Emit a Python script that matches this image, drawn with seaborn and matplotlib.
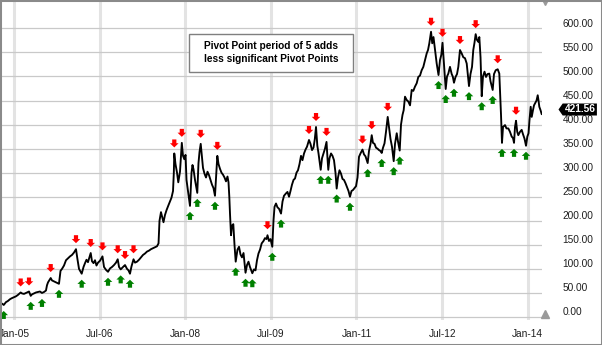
import numpy as np
import pandas as pd
import matplotlib
matplotlib.use("Agg")
import matplotlib.pyplot as plt
import matplotlib.transforms as mtrans
from matplotlib.path import Path
from matplotlib.patches import Rectangle
import seaborn as sns

# ---------------- data (decimal years, price) ----------------
dates = [
    2004.77, 2004.80, 2004.82, 2004.86, 2004.89, 2004.93, 2004.96, 2005.00, 2005.035, 2005.07,
    2005.117, 2005.14, 2005.175, 2005.21, 2005.263, 2005.293, 2005.315, 2005.35, 2005.385, 2005.42,
    2005.455, 2005.49, 2005.526, 2005.56, 2005.578, 2005.596, 2005.643, 2005.666, 2005.70, 2005.736,
    2005.788, 2005.815, 2005.841, 2005.876, 2005.911, 2005.946, 2005.981, 2006.016, 2006.051, 2006.086,
    2006.112, 2006.139, 2006.186, 2006.218, 2006.244, 2006.270, 2006.296, 2006.344, 2006.366, 2006.393,
    2006.419, 2006.445, 2006.472, 2006.507, 2006.550, 2006.577, 2006.612, 2006.647, 2006.682, 2006.717,
    2006.752, 2006.787, 2006.817, 2006.840, 2006.869, 2006.901, 2006.927, 2006.945, 2006.980, 2007.006,
    2007.032, 2007.058, 2007.094, 2007.120, 2007.155, 2007.190, 2007.225, 2007.260, 2007.295, 2007.330,
    2007.365, 2007.400, 2007.435, 2007.470, 2007.505, 2007.532, 2007.549, 2007.575, 2007.602, 2007.619,
    2007.645, 2007.672, 2007.698, 2007.733, 2007.759, 2007.786, 2007.800, 2007.808, 2007.829, 2007.856,
    2007.878, 2007.908, 2007.926, 2007.940, 2007.961, 2007.984, 2008.005, 2008.022, 2008.048, 2008.083,
    2008.110, 2008.127, 2008.145, 2008.171, 2008.211, 2008.232, 2008.250, 2008.271, 2008.294, 2008.311,
    2008.337, 2008.364, 2008.390, 2008.416, 2008.442, 2008.469, 2008.495, 2008.521, 2008.544, 2008.562,
    2008.583, 2008.609, 2008.635, 2008.661, 2008.688, 2008.714, 2008.740, 2008.758, 2008.772, 2008.784,
    2008.802, 2008.819, 2008.842, 2008.863, 2008.884, 2008.915, 2008.942, 2008.968, 2008.994, 2009.021,
    2009.056, 2009.082, 2009.108, 2009.134, 2009.175, 2009.205, 2009.231, 2009.257, 2009.283, 2009.310,
    2009.339, 2009.371, 2009.397, 2009.424, 2009.441, 2009.467, 2009.494, 2009.525, 2009.546, 2009.564,
    2009.590, 2009.616, 2009.643, 2009.678, 2009.704, 2009.730, 2009.765, 2009.791, 2009.818, 2009.844,
    2009.870, 2009.897, 2009.923, 2009.949, 2009.975, 2010.002, 2010.028, 2010.054, 2010.081, 2010.107,
    2010.133, 2010.168, 2010.194, 2010.221, 2010.247, 2010.270, 2010.291, 2010.314, 2010.335, 2010.373,
    2010.396, 2010.422, 2010.448, 2010.475, 2010.492, 2010.506, 2010.527, 2010.554, 2010.580, 2010.606,
    2010.632, 2010.653, 2010.676, 2010.702, 2010.729, 2010.755, 2010.781, 2010.808, 2010.834, 2010.860,
    2010.886, 2010.913, 2010.939, 2010.965, 2010.992, 2011.018, 2011.044, 2011.070, 2011.105, 2011.132,
    2011.158, 2011.196, 2011.219, 2011.246, 2011.267, 2011.289, 2011.316, 2011.342, 2011.368, 2011.394,
    2011.421, 2011.442, 2011.465, 2011.491, 2011.517, 2011.547, 2011.570, 2011.596, 2011.622, 2011.652,
    2011.675, 2011.705, 2011.727, 2011.757, 2011.780, 2011.806, 2011.827, 2011.850, 2011.880, 2011.908,
    2011.938, 2011.967, 2011.995, 2012.025, 2012.055, 2012.083, 2012.113, 2012.142, 2012.171, 2012.200,
    2012.230, 2012.253, 2012.276, 2012.306, 2012.327, 2012.349, 2012.376, 2012.405, 2012.437, 2012.463,
    2012.486, 2012.507, 2012.528, 2012.547, 2012.563, 2012.586, 2012.609, 2012.638, 2012.668, 2012.687,
    2012.708, 2012.735, 2012.761, 2012.784, 2012.813, 2012.843, 2012.871, 2012.901, 2012.931, 2012.954,
    2012.971, 2012.997, 2013.024, 2013.046, 2013.067, 2013.088, 2013.111, 2013.134, 2013.152, 2013.173,
    2013.194, 2013.216, 2013.243, 2013.269, 2013.295, 2013.327, 2013.348, 2013.386, 2013.409, 2013.439,
    2013.474, 2013.502, 2013.519, 2013.532, 2013.549, 2013.567, 2013.602, 2013.628, 2013.660, 2013.689,
    2013.719, 2013.742, 2013.760, 2013.777, 2013.795, 2013.816, 2013.835, 2013.865, 2013.894, 2013.917,
    2013.943, 2013.970, 2013.993, 2014.014, 2014.031, 2014.052, 2014.070, 2014.092, 2014.110, 2014.127,
    2014.154, 2014.175, 2014.189, 2014.203, 2014.224, 2014.245,
]
prices = [
    29, 27, 25, 31, 33, 37, 39, 41, 43, 46,
    51, 49, 48, 50, 53, 44, 47, 49, 51, 52,
    53, 50, 52, 55, 66, 72, 81, 76, 74, 72,
    69, 96, 100, 107, 118, 122, 126, 129, 134, 141,
    120, 100, 90, 104, 112, 119, 114, 133, 116, 112,
    118, 107, 113, 117, 126, 104, 98, 94, 101, 104,
    108, 113, 120, 104, 99, 103, 106, 108, 100, 97,
    90, 105, 120, 113, 115, 119, 124, 129, 132, 136,
    138, 141, 143, 145, 147, 153, 200, 218, 205, 197,
    212, 222, 230, 240, 248, 262, 300, 340, 318, 300,
    280, 302, 335, 362, 335, 328, 337, 285, 262, 231,
    300, 316, 307, 285, 258, 320, 343, 360, 330, 310,
    298, 290, 302, 295, 285, 275, 268, 252, 300, 335,
    318, 308, 300, 296, 290, 282, 292, 280, 250, 215,
    170, 190, 193, 150, 115, 140, 146, 130, 124, 133,
    92, 108, 115, 104, 91, 99, 97, 118, 132, 140,
    153, 158, 164, 162, 170, 158, 162, 146, 200, 229,
    236, 228, 225, 215, 240, 252, 257, 260, 250, 262,
    275, 285, 288, 300, 305, 318, 335, 326, 340, 348,
    354, 368, 360, 347, 352, 370, 395, 356, 340, 306,
    330, 340, 350, 364, 330, 306, 330, 340, 335, 326,
    300, 267, 290, 305, 298, 287, 285, 278, 270, 262,
    250, 262, 264, 268, 272, 290, 333, 340, 348, 338,
    334, 320, 345, 360, 378, 362, 360, 352, 350, 347,
    345, 341, 352, 361, 385, 416, 395, 370, 354, 324,
    360, 382, 365, 346, 400, 420, 430, 458, 451, 448,
    440, 472, 470, 479, 486, 499, 502, 513, 520, 534,
    548, 555, 569, 593, 569, 582, 555, 527, 503, 534,
    545, 570, 534, 500, 474, 500, 506, 520, 505, 500,
    487, 499, 505, 520, 555, 548, 540, 538, 527, 500,
    480, 505, 520, 555, 570, 588, 576, 572, 582, 540,
    459, 500, 510, 499, 505, 506, 490, 472, 505, 513,
    515, 506, 460, 420, 362, 395, 399, 392, 392, 385,
    375, 372, 362, 395, 408, 385, 378, 385, 389, 380,
    371, 356, 375, 382, 410, 437, 416, 430, 440, 444,
    450, 461, 450, 437, 430, 421.56,
]
pivot_high_dates = [2005.117, 2005.263, 2005.643, 2006.086, 2006.344, 2006.550, 2006.817,
                    2006.945, 2007.094, 2007.808, 2007.940, 2008.271, 2008.562, 2009.441,
                    2010.168, 2010.291, 2010.475, 2011.105, 2011.267, 2011.547, 2012.306,
                    2012.507, 2012.813, 2013.088, 2013.474, 2013.795]
pivot_low_dates = [2004.82, 2005.293, 2005.49, 2005.788, 2006.186, 2006.647, 2006.869,
                   2007.032, 2008.083, 2008.211, 2008.521, 2008.884, 2009.056, 2009.175,
                   2009.525, 2009.678, 2010.373, 2010.506, 2010.653, 2010.886, 2011.196,
                   2011.442, 2011.652, 2011.757, 2012.437, 2012.563, 2012.708, 2012.971,
                   2013.194, 2013.386, 2013.549, 2013.760, 2013.970]
x_tick_pos = [2005.0, 2006.5, 2008.0, 2009.5, 2011.0, 2012.5, 2014.0]
x_tick_labels = ["Jan-05", "Jul-06", "Jan-08", "Jul-09", "Jan-11", "Jul-12", "Jan-14"]
y_ticks = [0, 50, 100, 150, 200, 250, 300, 350, 400, 450, 500, 550, 600]
last_price = prices[-1]
note_lines = ["Pivot Point period of 5 adds", "less significant Pivot Points"]

assert len(dates) == len(prices)

# ---------------- style ----------------
sns.set_theme(style="white")
plt.rcParams['font.family'] = ['Liberation Sans', 'DejaVu Sans']
FS = 7.3
TXT = '#1e1e1e'

W, H = 602, 345
fig = plt.figure(figsize=(W / 100, H / 100), dpi=100, facecolor='white')


def px_rect(l, t, r, b):
    return [l / W, 1 - b / H, (r - l) / W, (b - t) / H]


ax = fig.add_axes(px_rect(1, 0, 542, 320))
ax.set_facecolor('white')
for s in ax.spines.values():
    s.set_visible(False)

df = pd.DataFrame({"date": dates, "price": prices})
sns.lineplot(data=df, x="date", y="price", ax=ax, color='black', lw=1.35,
             estimator=None, sort=False, zorder=2)

hi = pd.DataFrame({"date": pivot_high_dates,
                   "price": np.interp(pivot_high_dates, dates, prices)})
lo = pd.DataFrame({"date": pivot_low_dates,
                   "price": np.interp(pivot_low_dates, dates, prices)})


def arrow_marker(sign):
    tip, neck, top, hw, sw = 6.0, 10.2, 14.0, 4.3, 2.1
    pts = [(0, tip), (hw, neck), (sw, neck), (sw, top), (-sw, top), (-sw, neck), (-hw, neck), (0, tip)]
    verts = [(x, sign * y) for x, y in pts]
    codes = [Path.MOVETO] + [Path.LINETO] * 6 + [Path.CLOSEPOLY]
    return Path(verts, codes)


ms = 2 * 14.0 * 0.72
sns.scatterplot(data=hi, x="date", y="price", ax=ax, marker=arrow_marker(1), s=ms ** 2,
                color='#ff0000', edgecolor='none', linewidth=0, zorder=3, legend=False)
sns.scatterplot(data=lo, x="date", y="price", ax=ax, marker=arrow_marker(-1), s=ms ** 2,
                color='#008000', edgecolor='none', linewidth=0, zorder=3, legend=False)

# axes limits / ticks
ax.set_xlim(2004.7723, 2014.250)
ax.set_ylim(-6.24, 659.0)
ax.set_xticks(x_tick_pos, x_tick_labels)
ax.set_yticks(y_ticks, [f"{v:.2f}" for v in y_ticks])
ax.yaxis.tick_right()
ax.set_xlabel("")
ax.set_ylabel("")
ax.tick_params(axis='x', length=0, pad=6.2, labelsize=FS, labelcolor=TXT)
ax.tick_params(axis='y', length=0, pad=14.8, labelsize=FS, labelcolor=TXT)
ax.set_axisbelow(True)
ax.grid(axis='x', color='#e3e3e3', lw=2.2)
ax.grid(axis='y', color='#c9c9c9', lw=0.9)

off = mtrans.ScaledTranslation(0, 5.7 / 100, fig.dpi_scale_trans)
for lab in ax.get_yticklabels():
    lab.set_transform(lab.get_transform() + off)

# scroll triangles
ax.plot([1.0055], [0.997], marker='v', ms=5.5, color='#9a9a9a', transform=ax.transAxes,
        clip_on=False, lw=0)
ax.plot([1.0055], [0.019], marker='^', ms=5.5, color='#9a9a9a', transform=ax.transAxes,
        clip_on=False, lw=0)

# last price tag
tag_tr = mtrans.blended_transform_factory(fig.transFigure, ax.transData) + off
tag = Path([(0, 0), (4.2, 6.0), (38.4, 6.0), (38.4, -6.0), (4.2, -6.0), (0, 0)],
           [Path.MOVETO] + [Path.LINETO] * 4 + [Path.CLOSEPOLY])
ax.plot([558.3 / W], [last_price], marker=tag, ms=2 * 38.4 * 0.72, color='black',
        mew=0, transform=tag_tr, clip_on=False, lw=0, zorder=5)
ax.text(565 / W, last_price, f"{last_price:.2f}", transform=tag_tr, color='white',
        fontsize=FS, fontweight='bold', ha='left', va='center', clip_on=False, zorder=6)

# note box
fig.patches.append(Rectangle((189.3 / W, 1 - 71.7 / H), 164 / W, 37.4 / H,
                             transform=fig.transFigure, facecolor='white',
                             edgecolor='#7f7f7f', lw=1.0, zorder=10))
fig.text(271.3 / W, 1 - 49 / H, note_lines[0], ha='center', va='baseline',
         fontsize=FS, fontweight='bold', color='black', zorder=11)
fig.text(271.3 / W, 1 - 62.5 / H, note_lines[1], ha='center', va='baseline',
         fontsize=FS, fontweight='bold', color='black', zorder=11)

# outer frame
fig.patches.append(Rectangle((0, 0), 1, 1, transform=fig.transFigure, fill=False,
                             edgecolor='#8a8a8a', lw=2.2, zorder=20))

fig.savefig("out.png", dpi=100, facecolor='white')
